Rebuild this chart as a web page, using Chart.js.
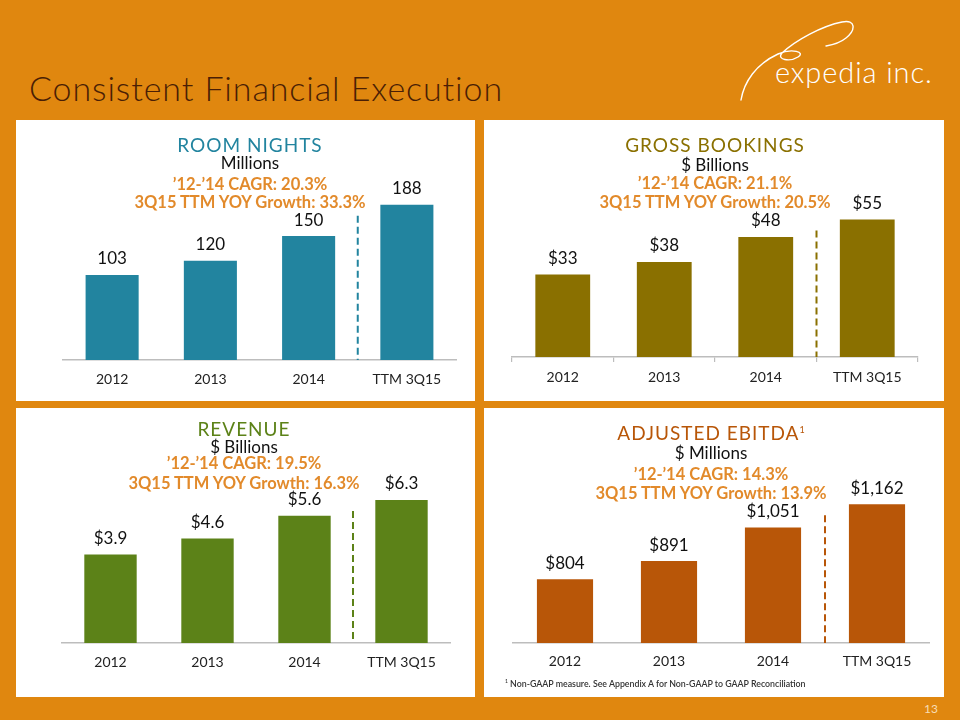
<!DOCTYPE html>
<html>
<head>
<meta charset="utf-8">
<script src="https://cdn.jsdelivr.net/npm/chart.js@4.4.1/dist/chart.umd.min.js"></script>
<style>
  body { margin: 0; background: #E0870F; }
  #slide { position: relative; width: 960px; height: 720px; background: #E0870F; overflow: hidden; font-family: 'Lato', 'Noto Sans', sans-serif; }
  .panel { position: absolute; background: #fff; }
  .panel canvas { position: absolute; left: 0; top: 0; }
  .line { position: absolute; width: 400px; text-align: center; white-space: nowrap; }
  .head { font-size: 19px; letter-spacing: 1px; height: 22px; line-height: 22px; }
  .unit { font-size: 17px; color: #111; height: 20px; line-height: 20px; }
  .stat { font-size: 16.5px; font-weight: 700; color: #E28A2B; height: 18px; line-height: 18px; }
  #title { position: absolute; left: 29px; top: 67px; font-size: 34px; font-weight: 300; color: #4A1E05; letter-spacing: 0.9px; }
  #brand { position: absolute; left: 775px; top: 54px; font-size: 29px; font-weight: 300; color: #fff; letter-spacing: 0.9px; }
  #foot { position: absolute; left: 505px; top: 678px; font-size: 8.8px; font-weight: 600; color: #333; z-index: 5; }
  #page { position: absolute; left: 924px; top: 701px; font-size: 12px; color: #F7DDB5; }
</style>
</head>
<body>
<div id="slide">
  <div id="title">Consistent Financial Execution</div>
  <svg width="960" height="120" style="position:absolute;left:0;top:0">
    <path d="M741 100 C744 82 756 64 778 54 C792 48 806 52 798 57 C790 62 776 60 782 53 C796 40 822 26 842 22 C856 19 856 30 846 38 C840 43 832 45 826 46"
          fill="none" stroke="#fff" stroke-width="1.4" stroke-linecap="round"/>
  </svg>
  <div id="brand">expedia inc.</div>
  <div id="foot"><sup style="font-size:5px">1</sup> Non-GAAP measure. See Appendix A for Non-GAAP to GAAP Reconciliation</div>
  <div id="page">13</div>
</div>

<script>
// ── Data ───────────────────────────────────────────
const categories = ['2012', '2013', '2014', 'TTM 3Q15'];
const roomNights = [103, 120, 150, 188];
const grossBookings = [33, 38, 48, 55];
const revenue = [3.9, 4.6, 5.6, 6.3];
const adjEbitda = [804, 891, 1051, 1162];

// ── Panel setup (layout + styling) ─────────────────
const panels = [
  {
    id: 'rooms', left: 16, top: 120, w: 459, h: 281, color: '#22849F',
    head: 'ROOM NIGHTS', unit: 'Millions',
    cagr: "’12-’14 CAGR: 20.3%", growth: '3Q15 TTM YOY Growth: 33.3%',
    textX: 234, textY: [25, 43, 64, 82],
    data: roomNights, min: 0, max: 242, fmt: (v) => String(v),
    pad: { left: 47, right: 19, top: 40, bottom: 1 }, ticks: false, labelPad: 11,
  },
  {
    id: 'gross', left: 484, top: 120, w: 460, h: 281, color: '#8A7000',
    head: 'GROSS BOOKINGS', unit: '$ Billions',
    cagr: "’12-’14 CAGR: 21.1%", growth: '3Q15 TTM YOY Growth: 20.5%',
    textX: 231, textY: [25, 45, 63, 82],
    data: grossBookings, min: 0, max: 80, fmt: (v) => '$' + v,
    pad: { left: 28, right: 26, top: 37, bottom: 4 }, ticks: true, labelPad: 7,
  },
  {
    id: 'revenue', left: 16, top: 408, w: 459, h: 289, color: '#5C8218',
    head: 'REVENUE', unit: '$ Billions',
    cagr: "’12-’14 CAGR: 19.5%", growth: '3Q15 TTM YOY Growth: 16.3%',
    textX: 228, textY: [21, 39, 55, 75],
    data: revenue, min: 0, max: 8.81, fmt: (v) => '$' + v.toFixed(1),
    pad: { left: 46, right: 25, top: 35, bottom: 14 }, ticks: false, labelPad: 11,
  },
  {
    id: 'ebitda', left: 484, top: 408, w: 460, h: 289, color: '#B85608',
    head: 'ADJUSTED EBITDA<sup style="font-size:9px;letter-spacing:0">1</sup>', unit: '$ Millions',
    cagr: "’12-’14 CAGR: 14.3%", growth: '3Q15 TTM YOY Growth: 13.9%',
    textX: 227, textY: [22, 45, 66, 85],
    data: adjEbitda, min: 500, max: 1455, fmt: (v) => '$' + v.toLocaleString('en-US'),
    pad: { left: 29, right: 15, top: 35, bottom: 14 }, ticks: false, labelPad: 10,
  },
];

// ── Plugins ────────────────────────────────────────
const barLabels = {
  id: 'barLabels',
  afterDatasetsDraw(chart, args, opts) {
    const { ctx } = chart;
    const meta = chart.getDatasetMeta(0);
    const values = chart.data.datasets[0].data;
    ctx.save();
    ctx.font = "17px 'Lato', sans-serif";
    ctx.fillStyle = '#111';
    ctx.textAlign = 'center';
    ctx.textBaseline = 'middle';
    meta.data.forEach((bar, i) => ctx.fillText(opts.format(values[i]), bar.x, bar.y - opts.offset));
    ctx.restore();
  },
};

const divider = {
  id: 'divider',
  afterDatasetsDraw(chart, args, opts) {
    const { ctx, chartArea } = chart;
    const meta = chart.getDatasetMeta(0);
    const a = meta.data[2], b = meta.data[3];
    const x = (a.x + b.x) / 2;
    ctx.save();
    ctx.strokeStyle = opts.color;
    ctx.lineWidth = 2;
    ctx.setLineDash([7, 4]);
    ctx.beginPath();
    ctx.moveTo(x, b.y + opts.gap);
    ctx.lineTo(x, chartArea.bottom);
    ctx.stroke();
    ctx.restore();
  },
};

// ── Build panels ───────────────────────────────────
const slide = document.getElementById('slide');

panels.forEach((p) => {
  const box = document.createElement('div');
  box.className = 'panel';
  Object.assign(box.style, { left: p.left + 'px', top: p.top + 'px', width: p.w + 'px', height: p.h + 'px' });
  const canvas = document.createElement('canvas');
  canvas.width = p.w;
  canvas.height = p.h;
  box.appendChild(canvas);

  const lines = [
    ['head', p.head],
    ['unit', p.unit],
    ['stat', p.cagr],
    ['stat', p.growth],
  ];
  lines.forEach(([cls, txt], i) => {
    const d = document.createElement('div');
    d.className = 'line ' + cls;
    d.innerHTML = txt;
    const hh = cls === 'head' ? 22 : cls === 'unit' ? 20 : 18;
    d.style.left = (p.textX - 200) + 'px';
    d.style.top = (p.textY[i] - hh / 2) + 'px';
    if (cls === 'head') d.style.color = p.color;
    box.appendChild(d);
  });
  slide.appendChild(box);

  new Chart(canvas.getContext('2d'), {
    type: 'bar',
    data: {
      labels: categories,
      datasets: [{
        data: p.data,
        backgroundColor: p.color,
        barPercentage: 0.54,
        categoryPercentage: 1,
      }],
    },
    options: {
      responsive: false,
      animation: false,
      layout: { padding: p.pad },
      plugins: {
        legend: { display: false },
        tooltip: { enabled: false },
        barLabels: { format: p.fmt, offset: 16 },
        divider: { color: p.color, gap: 11 },
      },
      scales: {
        x: {
          afterFit: (s) => { s.height = 40; },
          grid: p.ticks
            ? { display: true, drawOnChartArea: false, drawTicks: true, tickLength: 5, color: '#bdbdbd', lineWidth: 1.2 }
            : { display: true, drawOnChartArea: false, drawTicks: false, tickLength: 0 },
          border: { display: true, color: '#bdbdbd', width: 1.5 },
          ticks: { color: '#222', padding: p.labelPad, font: { family: "'Lato', sans-serif", size: 14 } },
        },
        y: { display: false, min: p.min, max: p.max },
      },
    },
    plugins: [barLabels, divider],
  });
});
</script>
</body>
</html>
